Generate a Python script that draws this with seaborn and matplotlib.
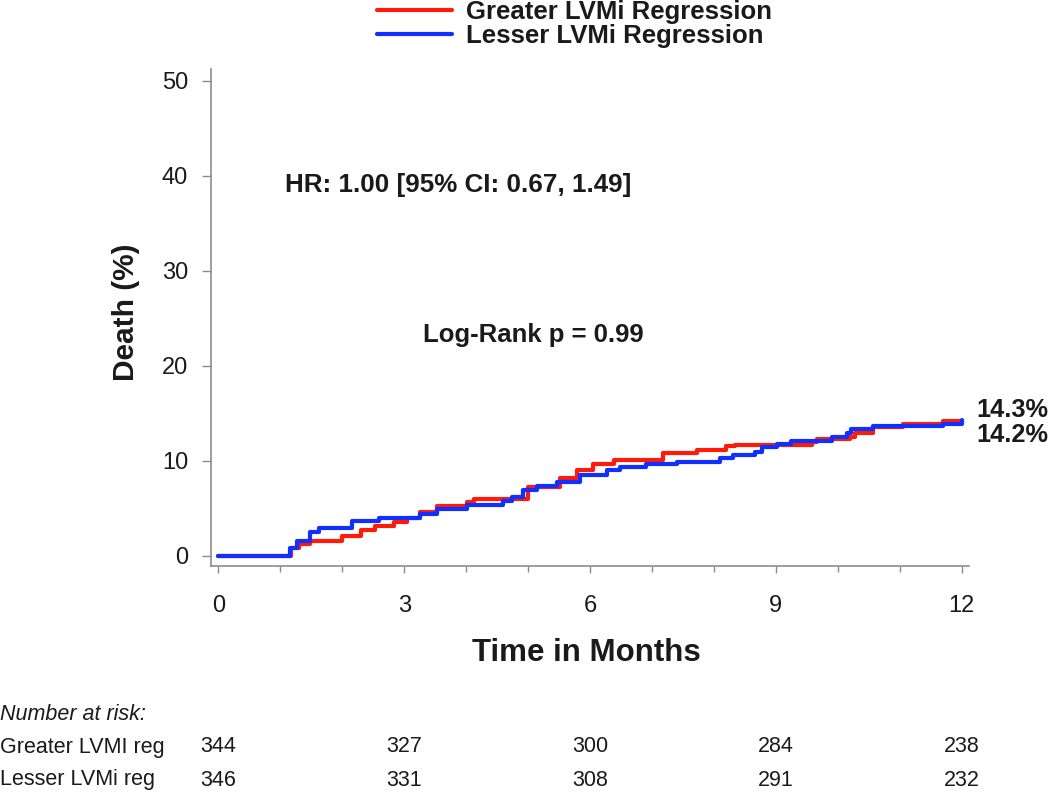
import numpy as np
import pandas as pd
import matplotlib
matplotlib.use("Agg")
import matplotlib.pyplot as plt
import matplotlib.transforms as mtransforms
import seaborn as sns

sns.set_theme(style="ticks")
plt.rcParams["font.family"] = ["Liberation Sans", "DejaVu Sans"]
plt.rcParams["text.color"] = "k"
plt.rcParams["xtick.labelcolor"] = "k"
plt.rcParams["ytick.labelcolor"] = "k"

# %% data
groups = ["Greater LVMi Regression", "Lesser LVMi Regression"]

greater_months = [0, 1.18, 1.30, 1.48, 1.99, 2.31, 2.53, 2.83, 3.04, 3.26, 3.53,
                  4.01, 4.12, 5.00, 5.52, 5.79, 6.05, 6.38, 7.18, 7.72, 8.20,
                  8.34, 9.58, 9.66, 10.19, 10.27, 10.57, 11.05, 11.70, 12.0]
greater_death = [0, 0.8, 1.2, 1.6, 2.1, 2.7, 3.1, 3.6, 4.0, 4.6, 5.2,
                 5.7, 6.0, 7.2, 8.2, 9.0, 9.7, 10.1, 10.8, 11.1, 11.5,
                 11.7, 12.0, 12.25, 12.5, 12.95, 13.5, 13.9, 14.2, 14.2]

lesser_months = [0, 1.16, 1.27, 1.48, 1.62, 2.16, 2.59, 3.26, 3.53, 4.01,
                 4.60, 4.74, 4.92, 5.14, 5.46, 5.84, 6.27, 6.48, 6.91, 7.40,
                 8.10, 8.31, 8.66, 8.77, 9.01, 9.25, 9.90, 10.14, 10.22,
                 10.57, 11.70, 12.0]
lesser_death = [0, 0.8, 1.5, 2.55, 2.9, 3.7, 4.0, 4.4, 4.9, 5.3,
                5.8, 6.2, 6.9, 7.35, 7.8, 8.5, 9.0, 9.3, 9.7, 9.9,
                10.26, 10.6, 10.9, 11.4, 11.8, 12.1, 12.5, 12.9, 13.3,
                13.7, 13.9, 14.3]

end_labels = ["14.3%", "14.2%"]

risk_months = [0, 3, 6, 9, 12]
risk_greater = [344, 327, 300, 284, 238]
risk_lesser = [346, 331, 308, 291, 232]
risk_rows = ["Greater LVMI reg", "Lesser LVMi reg"]

# %%
df = pd.concat([
    pd.DataFrame({"month": greater_months, "death": greater_death, "group": groups[0]}),
    pd.DataFrame({"month": lesser_months, "death": lesser_death, "group": groups[1]}),
])

fig = plt.figure(figsize=(10.5, 7.93), dpi=100)
ax = fig.add_axes([0.201, 0.2866, 0.7219, 0.6264])

sns.lineplot(data=df, x="month", y="death", hue="group", hue_order=groups,
             palette={groups[0]: "#ff1a0a", groups[1]: "#1030ff"},
             estimator=None, drawstyle="steps-post", linewidth=3.0, ax=ax)

ax.set_xlim(-0.118, 12.118)
ax.set_ylim(-1.05, 51.23)
ax.set_xticks([0, 3, 6, 9, 12])
ax.set_xticks(np.arange(0, 13, 1), minor=True)
ax.set_yticks([0, 10, 20, 30, 40, 50])
sns.despine(ax=ax)
for s in ["left", "bottom"]:
    ax.spines[s].set_color("#8c8c8c")
    ax.spines[s].set_linewidth(1.2)
ax.tick_params(axis="y", length=6.5, width=1, color="#8c8c8c", labelcolor="k", labelsize=17, pad=10)
ax.tick_params(axis="x", which="major", length=5, width=1, color="#8c8c8c", labelcolor="k",
               labelsize=17, pad=16)
ax.tick_params(axis="x", which="minor", length=4, width=1, color="#8c8c8c")
ax.set_xlabel("")
ax.set_ylabel("")

fig.text(586 / 1050, 1 - 653 / 793, "Time in Months", fontsize=22.5, fontweight="bold",
         ha="center", va="center")
fig.text(126 / 1050, 1 - 312 / 793, "Death (%)", fontsize=21.5, fontweight="bold",
         rotation=90, ha="center", va="center")

ax.text(1.08, 39.0, "HR: 1.00 [95% CI: 0.67, 1.49]", fontsize=18.7, fontweight="bold", va="center")
ax.text(3.30, 23.2, "Log-Rank p = 0.99", fontsize=18.5, fontweight="bold", va="center")
ax.text(12.24, 15.33, end_labels[0], fontsize=18.3, fontweight="bold", va="center", clip_on=False)
ax.text(12.24, 12.7, end_labels[1], fontsize=18.3, fontweight="bold", va="center", clip_on=False)

handles, labels = ax.get_legend_handles_labels()
ax.legend(handles, labels, loc="upper left", bbox_to_anchor=(364 / 1050, 1.0166),
          bbox_transform=fig.transFigure, frameon=False, borderpad=0,
          handlelength=2.92, handletextpad=0.55, labelspacing=0.02,
          prop={"size": 18.5, "weight": "bold"})

# number at risk table
trans = mtransforms.blended_transform_factory(ax.transData, fig.transFigure)
fig.text(0.0, 1 - 714 / 793, "Number at risk:", fontsize=15.5, style="italic", va="center")
for row, counts, ypx in zip(risk_rows, [risk_greater, risk_lesser], [747, 780]):
    fig.text(0.0, 1 - ypx / 793, row, fontsize=15.5, va="center")
    for m, c in zip(risk_months, counts):
        ax.text(m, 1 - ypx / 793, str(c), fontsize=15.5, ha="center", va="center",
                transform=trans, clip_on=False)

fig.savefig("out.png", dpi=100)
